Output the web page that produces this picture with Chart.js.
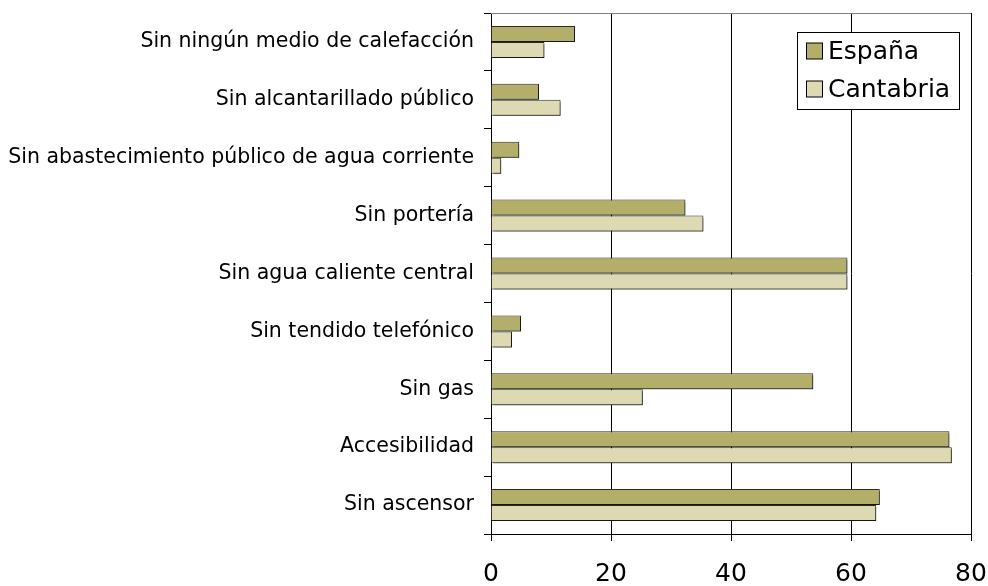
<!DOCTYPE html>
<html>
<head>
<meta charset="utf-8">
<script src="https://cdn.jsdelivr.net/npm/chart.js@4/dist/chart.umd.min.js"></script>
<style>
  html, body { margin: 0; padding: 0; background: #fff; }
  #wrap { width: 988px; height: 586px; }
</style>
</head>
<body>
<div id="wrap"><canvas id="chart" width="988" height="586"></canvas></div>
<script>
// categories, top to bottom as in the picture
var categorias = [
  'Sin ningún medio de calefacción',
  'Sin alcantarillado público',
  'Sin abastecimiento público de agua corriente',
  'Sin portería',
  'Sin agua caliente central',
  'Sin tendido telefónico',
  'Sin gas',
  'Accesibilidad',
  'Sin ascensor'
];
var espana    = [14.0, 8.0, 4.7, 32.4, 59.4, 5.0, 53.7, 76.4, 64.8];
var cantabria = [8.9, 11.6, 1.7, 35.4, 59.4, 3.5, 25.3, 76.8, 64.2];
var ticksX = [0, 20, 40, 60, 80];

var FONT = "'DejaVu Sans', sans-serif";

// small grey drop shadow on the bars
var barShadow = {
  id: 'barShadow',
  beforeDatasetsDraw: function(chart) {
    var ctx = chart.ctx;
    ctx.save();
    ctx.shadowColor = 'rgba(0,0,0,0.45)';
    ctx.shadowOffsetX = 2;
    ctx.shadowOffsetY = 2;
    ctx.shadowBlur = 0;
  },
  afterDatasetsDraw: function(chart) { chart.ctx.restore(); }
};

// legend inside the plot, top right, with a border (like the original)
var boxLegend = {
  id: 'boxLegend',
  afterDraw: function(chart) {
    var ctx = chart.ctx, a = chart.chartArea;
    // top border of the plot area
    ctx.save();
    ctx.strokeStyle = '#808080';
    ctx.lineWidth = 1;
    ctx.beginPath();
    ctx.moveTo(a.left, Math.round(a.top) + 0.5);
    ctx.lineTo(a.right, Math.round(a.top) + 0.5);
    ctx.stroke();

    var x = 797.5, y = 32.5, w = 162, h = 77;
    ctx.fillStyle = '#fff';
    ctx.fillRect(x, y, w, h);
    ctx.strokeStyle = '#000';
    ctx.strokeRect(x, y, w, h);
    ctx.font = '25px ' + FONT;
    ctx.textBaseline = 'middle';
    chart.data.datasets.forEach(function(ds, i) {
      var cy = 51 + i * 38;
      ctx.fillStyle = ds.backgroundColor;
      ctx.fillRect(806.5, cy - 8, 16, 16);
      ctx.strokeStyle = '#000';
      ctx.strokeRect(806.5, cy - 8, 16, 16);
      ctx.fillStyle = '#000';
      ctx.fillText(ds.label, 828, cy + 1);
    });
    ctx.restore();
  }
};

new Chart(document.getElementById('chart'), {
  type: 'bar',
  data: {
    labels: categorias,
    datasets: [{
      label: 'España',
      data: espana,
      backgroundColor: '#b3af6a',
      borderColor: '#2b2b20',
      borderWidth: 1,
      categoryPercentage: 0.553,
      barPercentage: 1
    }, {
      label: 'Cantabria',
      data: cantabria,
      backgroundColor: '#dcd9b3',
      borderColor: '#2b2b20',
      borderWidth: 1,
      categoryPercentage: 0.553,
      barPercentage: 1
    }]
  },
  options: {
    indexAxis: 'y',
    responsive: false,
    animation: false,
    layout: { padding: { top: 13, right: 17, left: 0, bottom: 0 } },
    plugins: { legend: { display: false }, tooltip: { enabled: false } },
    scales: {
      x: {
        min: 0, max: 80,
        afterBuildTicks: function(s) { s.ticks = ticksX.map(function(v) { return { value: v }; }); },
        afterFit: function(s) { s.height = 52; s.paddingLeft = 0; s.paddingRight = 0; },
        grid: { color: '#000', lineWidth: 1, tickLength: 7, drawOnChartArea: true },
        border: { color: '#000' },
        ticks: { color: '#000', font: { family: FONT, size: 25 }, padding: 18 }
      },
      y: {
        afterFit: function(s) { s.width = 491; s.paddingTop = 0; s.paddingBottom = 0; },
        grid: { drawOnChartArea: false, color: '#000', tickLength: 7, offset: true },
        border: { color: '#000' },
        ticks: { color: '#000', font: { family: FONT, size: 20.5 }, padding: 10, autoSkip: false }
      }
    }
  },
  plugins: [barShadow, boxLegend]
});
</script>
</body>
</html>
